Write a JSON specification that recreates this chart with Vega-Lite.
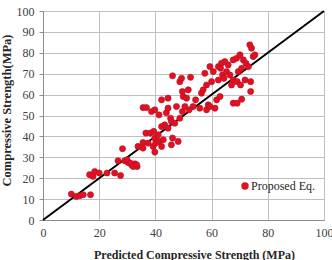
{
  "$schema": "https://vega.github.io/schema/vega-lite/v6.json",
  "width": 281,
  "height": 209,
  "autosize": {"type": "none"},
  "padding": {"left": 43, "top": 11, "right": 8, "bottom": 40},
  "background": "white",
  "config": {
    "font": "Liberation Serif",
    "view": {"stroke": null},
    "axis": {
      "labelFont": "Liberation Serif",
      "labelFontSize": 12,
      "labelColor": "#404040",
      "labelOverlap": false,
      "titleFont": "Liberation Serif",
      "titleFontSize": 12,
      "titleFontWeight": "bold",
      "titleColor": "#262626",
      "gridColor": "#bfbfbf",
      "gridWidth": 1,
      "gridOpacity": 1,
      "domainColor": "#8c8c8c",
      "tickColor": "#8c8c8c"
    },
    "legend": {"labelFont": "Liberation Serif", "labelFontSize": 12, "labelColor": "#262626"}
  },
  "layer": [
    {
      "data": {"values": [{"px": 0, "py": 0}, {"px": 100, "py": 100}]},
      "mark": {"type": "line", "color": "#000000", "strokeWidth": 2},
      "encoding": {
        "x": {
          "field": "px", "type": "quantitative",
          "scale": {"domain": [0, 100], "nice": false},
          "axis": {"values": [0, 20, 40, 60, 80, 100], "ticks": false, "labelPadding": 7, "title": "Predicted Compressive  Strength (MPa)", "titlePadding": 11, "titleX": 151, "labelFlush": false}
        },
        "y": {
          "field": "py", "type": "quantitative",
          "scale": {"domain": [0, 100], "nice": false},
          "axis": {"values": [0, 10, 20, 30, 40, 50, 60, 70, 80, 90, 100], "tickSize": 4, "labelPadding": 5, "title": "Compressive Strength(MPa)", "titlePadding": 3, "titleY": 99, "titleFontSize": 12.5, "labelFlush": false}
        }
      }
    },
    {
      "data": {"values": [
        {"pred": 10.1, "exp": 12.4, "series": "Proposed Eq."},
        {"pred": 11.9, "exp": 11.3, "series": "Proposed Eq."},
        {"pred": 13.1, "exp": 11.6, "series": "Proposed Eq."},
        {"pred": 14.3, "exp": 12.1, "series": "Proposed Eq."},
        {"pred": 16.9, "exp": 12.1, "series": "Proposed Eq."},
        {"pred": 16.6, "exp": 21.7, "series": "Proposed Eq."},
        {"pred": 17.8, "exp": 20.9, "series": "Proposed Eq."},
        {"pred": 18.4, "exp": 23.2, "series": "Proposed Eq."},
        {"pred": 20.0, "exp": 22.5, "series": "Proposed Eq."},
        {"pred": 22.8, "exp": 22.5, "series": "Proposed Eq."},
        {"pred": 25.5, "exp": 22.5, "series": "Proposed Eq."},
        {"pred": 27.6, "exp": 21.3, "series": "Proposed Eq."},
        {"pred": 26.7, "exp": 28.3, "series": "Proposed Eq."},
        {"pred": 28.3, "exp": 34.1, "series": "Proposed Eq."},
        {"pred": 29.1, "exp": 28.3, "series": "Proposed Eq."},
        {"pred": 30.3, "exp": 27.5, "series": "Proposed Eq."},
        {"pred": 31.5, "exp": 26.4, "series": "Proposed Eq."},
        {"pred": 32.7, "exp": 26.9, "series": "Proposed Eq."},
        {"pred": 33.5, "exp": 25.6, "series": "Proposed Eq."},
        {"pred": 29.9, "exp": 28.8, "series": "Proposed Eq."},
        {"pred": 31.1, "exp": 27.2, "series": "Proposed Eq."},
        {"pred": 32.1, "exp": 25.6, "series": "Proposed Eq."},
        {"pred": 33.3, "exp": 26.4, "series": "Proposed Eq."},
        {"pred": 33.8, "exp": 35.2, "series": "Proposed Eq."},
        {"pred": 35.6, "exp": 34.4, "series": "Proposed Eq."},
        {"pred": 35.6, "exp": 37.1, "series": "Proposed Eq."},
        {"pred": 35.6, "exp": 53.8, "series": "Proposed Eq."},
        {"pred": 36.8, "exp": 53.8, "series": "Proposed Eq."},
        {"pred": 36.6, "exp": 41.6, "series": "Proposed Eq."},
        {"pred": 37.4, "exp": 36.8, "series": "Proposed Eq."},
        {"pred": 38.2, "exp": 41.6, "series": "Proposed Eq."},
        {"pred": 39.2, "exp": 35.2, "series": "Proposed Eq."},
        {"pred": 38.6, "exp": 51.9, "series": "Proposed Eq."},
        {"pred": 39.8, "exp": 52.7, "series": "Proposed Eq."},
        {"pred": 39.4, "exp": 42.4, "series": "Proposed Eq."},
        {"pred": 39.8, "exp": 39.2, "series": "Proposed Eq."},
        {"pred": 40.1, "exp": 36.8, "series": "Proposed Eq."},
        {"pred": 39.8, "exp": 32.5, "series": "Proposed Eq."},
        {"pred": 41.0, "exp": 40.8, "series": "Proposed Eq."},
        {"pred": 41.3, "exp": 37.6, "series": "Proposed Eq."},
        {"pred": 42.2, "exp": 35.2, "series": "Proposed Eq."},
        {"pred": 41.3, "exp": 50.3, "series": "Proposed Eq."},
        {"pred": 42.2, "exp": 57.5, "series": "Proposed Eq."},
        {"pred": 42.2, "exp": 44.7, "series": "Proposed Eq."},
        {"pred": 42.8, "exp": 38.4, "series": "Proposed Eq."},
        {"pred": 43.3, "exp": 45.5, "series": "Proposed Eq."},
        {"pred": 43.9, "exp": 51.3, "series": "Proposed Eq."},
        {"pred": 44.5, "exp": 53.5, "series": "Proposed Eq."},
        {"pred": 44.5, "exp": 58.3, "series": "Proposed Eq."},
        {"pred": 44.5, "exp": 43.9, "series": "Proposed Eq."},
        {"pred": 45.4, "exp": 48.7, "series": "Proposed Eq."},
        {"pred": 45.7, "exp": 47.1, "series": "Proposed Eq."},
        {"pred": 46.1, "exp": 39.2, "series": "Proposed Eq."},
        {"pred": 45.7, "exp": 36.0, "series": "Proposed Eq."},
        {"pred": 46.1, "exp": 69.0, "series": "Proposed Eq."},
        {"pred": 46.9, "exp": 46.3, "series": "Proposed Eq."},
        {"pred": 47.5, "exp": 54.3, "series": "Proposed Eq."},
        {"pred": 48.1, "exp": 37.6, "series": "Proposed Eq."},
        {"pred": 48.7, "exp": 48.7, "series": "Proposed Eq."},
        {"pred": 48.7, "exp": 66.2, "series": "Proposed Eq."},
        {"pred": 49.3, "exp": 67.8, "series": "Proposed Eq."},
        {"pred": 49.6, "exp": 61.5, "series": "Proposed Eq."},
        {"pred": 49.9, "exp": 59.1, "series": "Proposed Eq."},
        {"pred": 49.6, "exp": 51.9, "series": "Proposed Eq."},
        {"pred": 50.5, "exp": 54.3, "series": "Proposed Eq."},
        {"pred": 51.1, "exp": 58.3, "series": "Proposed Eq."},
        {"pred": 51.7, "exp": 62.3, "series": "Proposed Eq."},
        {"pred": 52.0, "exp": 52.7, "series": "Proposed Eq."},
        {"pred": 52.5, "exp": 68.3, "series": "Proposed Eq."},
        {"pred": 53.4, "exp": 54.3, "series": "Proposed Eq."},
        {"pred": 54.3, "exp": 57.5, "series": "Proposed Eq."},
        {"pred": 55.8, "exp": 53.5, "series": "Proposed Eq."},
        {"pred": 56.4, "exp": 60.7, "series": "Proposed Eq."},
        {"pred": 57.0, "exp": 62.3, "series": "Proposed Eq."},
        {"pred": 57.6, "exp": 70.2, "series": "Proposed Eq."},
        {"pred": 58.2, "exp": 64.6, "series": "Proposed Eq."},
        {"pred": 58.2, "exp": 52.7, "series": "Proposed Eq."},
        {"pred": 58.8, "exp": 55.1, "series": "Proposed Eq."},
        {"pred": 59.4, "exp": 73.4, "series": "Proposed Eq."},
        {"pred": 60.0, "exp": 66.2, "series": "Proposed Eq."},
        {"pred": 59.4, "exp": 54.3, "series": "Proposed Eq."},
        {"pred": 60.6, "exp": 71.0, "series": "Proposed Eq."},
        {"pred": 61.2, "exp": 53.5, "series": "Proposed Eq."},
        {"pred": 61.8, "exp": 57.5, "series": "Proposed Eq."},
        {"pred": 62.4, "exp": 67.0, "series": "Proposed Eq."},
        {"pred": 62.4, "exp": 73.4, "series": "Proposed Eq."},
        {"pred": 63.0, "exp": 59.1, "series": "Proposed Eq."},
        {"pred": 63.2, "exp": 72.6, "series": "Proposed Eq."},
        {"pred": 63.5, "exp": 75.0, "series": "Proposed Eq."},
        {"pred": 63.9, "exp": 69.4, "series": "Proposed Eq."},
        {"pred": 64.4, "exp": 67.8, "series": "Proposed Eq."},
        {"pred": 64.7, "exp": 75.8, "series": "Proposed Eq."},
        {"pred": 65.3, "exp": 71.0, "series": "Proposed Eq."},
        {"pred": 65.9, "exp": 74.2, "series": "Proposed Eq."},
        {"pred": 66.5, "exp": 69.4, "series": "Proposed Eq."},
        {"pred": 67.1, "exp": 64.6, "series": "Proposed Eq."},
        {"pred": 67.7, "exp": 67.0, "series": "Proposed Eq."},
        {"pred": 67.7, "exp": 76.6, "series": "Proposed Eq."},
        {"pred": 67.7, "exp": 55.9, "series": "Proposed Eq."},
        {"pred": 68.9, "exp": 77.4, "series": "Proposed Eq."},
        {"pred": 69.1, "exp": 55.9, "series": "Proposed Eq."},
        {"pred": 69.5, "exp": 71.0, "series": "Proposed Eq."},
        {"pred": 69.1, "exp": 66.2, "series": "Proposed Eq."},
        {"pred": 70.1, "exp": 79.0, "series": "Proposed Eq."},
        {"pred": 70.3, "exp": 64.6, "series": "Proposed Eq."},
        {"pred": 70.7, "exp": 72.6, "series": "Proposed Eq."},
        {"pred": 70.7, "exp": 57.8, "series": "Proposed Eq."},
        {"pred": 71.3, "exp": 76.6, "series": "Proposed Eq."},
        {"pred": 71.9, "exp": 67.0, "series": "Proposed Eq."},
        {"pred": 72.2, "exp": 75.0, "series": "Proposed Eq."},
        {"pred": 73.1, "exp": 73.4, "series": "Proposed Eq."},
        {"pred": 73.6, "exp": 83.8, "series": "Proposed Eq."},
        {"pred": 73.9, "exp": 66.2, "series": "Proposed Eq."},
        {"pred": 73.9, "exp": 61.5, "series": "Proposed Eq."},
        {"pred": 74.2, "exp": 82.2, "series": "Proposed Eq."},
        {"pred": 74.8, "exp": 78.2, "series": "Proposed Eq."},
        {"pred": 75.4, "exp": 79.0, "series": "Proposed Eq."}
      ]},
      "mark": {"type": "circle", "size": 38, "opacity": 1, "stroke": "#b0102a", "strokeWidth": 0.6},
      "encoding": {
        "x": {
          "field": "pred", "type": "quantitative",
          "scale": {"domain": [0, 100], "nice": false},
          "axis": {"values": [0, 20, 40, 60, 80, 100], "ticks": false, "labelPadding": 7, "title": "Predicted Compressive  Strength (MPa)", "titlePadding": 11, "titleX": 151, "labelFlush": false}
        },
        "y": {
          "field": "exp", "type": "quantitative",
          "scale": {"domain": [0, 100], "nice": false},
          "axis": {"values": [0, 10, 20, 30, 40, 50, 60, 70, 80, 90, 100], "tickSize": 4, "labelPadding": 5, "title": "Compressive Strength(MPa)", "titlePadding": 3, "titleY": 99, "titleFontSize": 12.5, "labelFlush": false}
        },
        "color": {
          "field": "series", "type": "nominal",
          "scale": {"range": ["#e3101f"]},
          "legend": {"title": null, "orient": "none", "legendX": 196, "legendY": 169, "symbolType": "circle", "symbolSize": 55, "symbolStrokeWidth": 0, "labelOffset": 0}
        }
      }
    }
  ]
}
